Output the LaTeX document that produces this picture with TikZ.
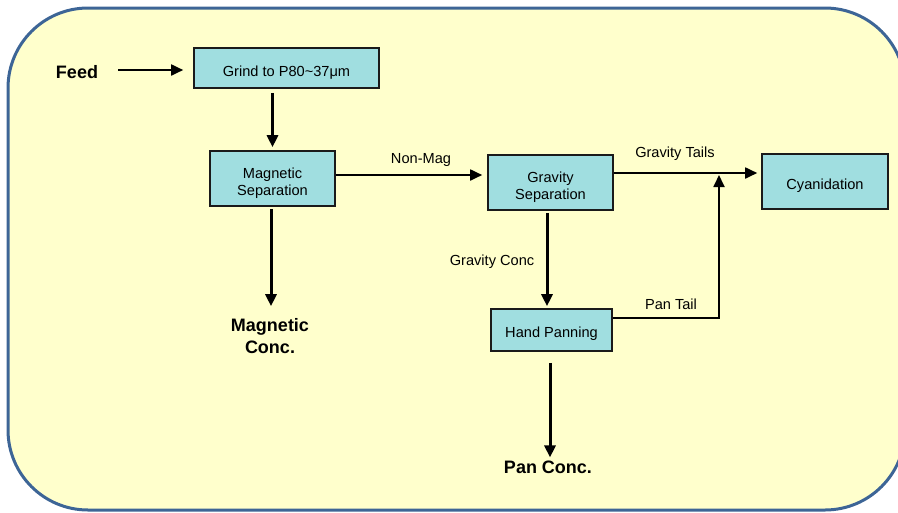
\documentclass[tikz,border=0pt]{standalone}
\usepackage{fontspec}
\setmainfont{Liberation Sans}
\usetikzlibrary{arrows.meta}
\definecolor{bgyellow}{HTML}{FFFFCC}
\definecolor{frameblue}{HTML}{3D6596}
\definecolor{boxcyan}{HTML}{A0DEE0}
\definecolor{boxline}{HTML}{1A1A1A}
\newcommand{\lowr}[2]{\raisebox{-#1}[\height][\depth]{#2}}
\tikzset{
  procbox/.style={draw=boxline, line width=1.6pt, fill=boxcyan, align=center,
    font=\fontsize{14.6}{17}\selectfont, inner sep=0pt},
  lbl/.style={font=\fontsize{14.6}{17}\selectfont, inner sep=0pt},
  outlbl/.style={font=\fontsize{18}{22}\selectfont\bfseries, align=center, inner sep=0pt},
  thinarr/.style={line width=1.8pt, -{Triangle[length=12pt,width=11pt]}},
  thickarr/.style={line width=3pt, -{Triangle[length=12pt,width=11pt]}}
}
\begin{document}
\begin{tikzpicture}[x=1pt,y=-1pt]
\useasboundingbox (0,0) rectangle (898,512);
\begin{scope}
\clip (0,0) rectangle (898,512);
\draw[frameblue, line width=3pt, fill=bgyellow, rounded corners=80pt] (8,8) rectangle (905,510);
\end{scope}

% nodes
\node[outlbl] (feed) at (77,72) {Feed};
\node[procbox, minimum width=185pt, minimum height=40pt] (grind) at (286.5,68) {\lowr{5pt}{Grind to P80{\char"007E}37μm}};
\node[procbox, minimum width=125pt, minimum height=55pt] (mag) at (272.5,178.5) {\lowr{5pt}{\shortstack{Magnetic\\[0.5pt]Separation}}};
\node[procbox, minimum width=125pt, minimum height=55pt] (grav) at (550.5,182.5) {\lowr{5pt}{\shortstack{Gravity\\[0.5pt]Separation}}};
\node[procbox, minimum width=126pt, minimum height=55pt] (cyan) at (825,181.5) {\lowr{4pt}{Cyanidation}};
\node[procbox, minimum width=121pt, minimum height=42pt] (hand) at (551.5,330) {\lowr{4pt}{Hand Panning}};
\node[outlbl] (magconc) at (270,336) {Magnetic\\Conc.};
\node[outlbl] (panconc) at (548,467) {Pan Conc.};

% labels
\node[lbl] (lnonmag) at (421,160) {Non-Mag};
\node[lbl] (lgtails) at (675,154) {Gravity Tails};
\node[lbl] (lpantail) at (671,304) {Pan Tail};
\node[lbl] (lgconc) at (492,262) {Gravity Conc};

% coordinates
\coordinate (feedstart) at (118,70);
\coordinate (junction) at (719,173);

% connectors
\draw[thinarr, shorten >=10pt] (feedstart) -- (feedstart -| grind.west);
\draw[thickarr, shorten <=4pt, shorten >=3pt] (mag.north |- grind.south) -- (mag.north);
\draw[thinarr, shorten >=5pt] ([yshift=3.5pt]mag.east) -- ([yshift=3.5pt]mag.east -| grav.west);
\draw[thickarr, shorten <=2pt, shorten >=12pt] ([xshift=-1.5pt]mag.south) -- ([xshift=-1.5pt]mag.south |- magconc.north);
\draw[thinarr, shorten >=4pt] ([yshift=9.5pt]grav.east) -- ([yshift=9.5pt]grav.east -| cyan.west);
\draw[thickarr, shorten <=2pt, shorten >=2pt] ([xshift=-3.5pt]grav.south) -- ([xshift=-3.5pt]grav.south |- hand.north);
\draw[thinarr, shorten >=2pt] ([yshift=12pt]hand.east) -| (junction);
\draw[thickarr, shorten <=11pt, shorten >=3pt] ([xshift=-1.5pt]hand.south) -- ([xshift=-1.5pt]hand.south |- panconc.north);
\end{tikzpicture}
\end{document}
